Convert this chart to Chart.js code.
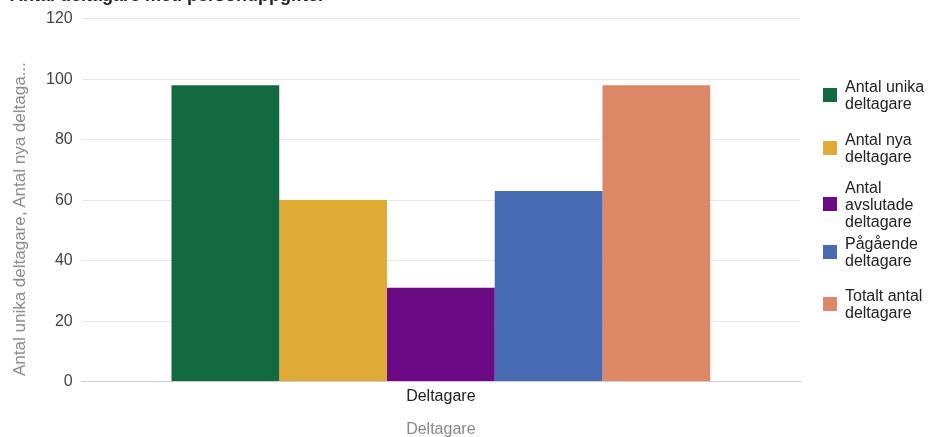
<!DOCTYPE html>
<html>
<head>
<meta charset="utf-8">
<script src="https://cdn.jsdelivr.net/npm/chart.js@4.4.1/dist/chart.umd.min.js"></script>
<style>
  html, body { margin: 0; padding: 0; background: #fff; overflow: hidden; }
  #wrap { position: relative; width: 929px; height: 437px; overflow: hidden; }
  #title { position: absolute; left: 10px; top: -15px; font: bold 18px Arial, "Liberation Sans", sans-serif; color: #222; white-space: nowrap; }
  #ytitle { position: absolute; left: 20px; top: 219px; transform: translate(-50%, -50%) rotate(-90deg); font: 17px Arial, "Liberation Sans", sans-serif; color: #888; white-space: nowrap; }
  #legend { position: absolute; left: 823px; top: 0; font: 16px Arial, "Liberation Sans", sans-serif; color: #222; }
  .item { position: absolute; left: 0; width: 110px; display: flex; align-items: center; }
  .box { width: 14px; height: 14px; flex: none; margin-right: 8px; }
  .txt { line-height: 17px; white-space: nowrap; }
</style>
</head>
<body>
<div id="wrap">
  <canvas id="chart" width="929" height="437"></canvas>
  <div id="title">Antal deltagare med personuppgifter</div>
  <div id="ytitle">Antal unika deltagare, Antal nya deltaga...</div>
  <div id="legend"></div>
</div>
<script>
const categories = ['Deltagare'];
const seriesNames = ['Antal unika deltagare', 'Antal nya deltagare', 'Antal avslutade deltagare', 'Pågående deltagare', 'Totalt antal deltagare'];
const legendLines = [['Antal unika', 'deltagare'], ['Antal nya', 'deltagare'], ['Antal', 'avslutade', 'deltagare'], ['Pågående', 'deltagare'], ['Totalt antal', 'deltagare']];
const seriesValues = [98, 60, 31, 63, 98];
const seriesColors = ['#136a40', '#e0aa36', '#6c0a85', '#476cb3', '#dc8867'];
const yTicks = [0, 20, 40, 60, 80, 100, 120];
const legendCenters = [95, 148, 204, 252, 304];

const datasets = seriesNames.map((name, i) => ({
    label: name,
    data: [seriesValues[i]],
    backgroundColor: seriesColors[i],
    borderWidth: 0,
    barPercentage: 1.0,
    categoryPercentage: 0.75
}));

const ctx = document.getElementById('chart').getContext('2d');
const myChart = new Chart(ctx, {
    type: 'bar',
    data: { labels: categories, datasets: datasets },
    options: {
        responsive: false,
        animation: false,
        layout: { padding: { top: 11.5, right: 129, left: 37, bottom: -2 } },
        plugins: {
            legend: { display: false },
            tooltip: { enabled: false }
        },
        scales: {
            x: {
                grid: { display: false, drawTicks: false },
                border: { color: '#cccccc', width: 1 },
                ticks: { color: '#222', font: { family: 'Arial', size: 16 }, padding: 5 },
                title: { display: true, text: 'Deltagare', color: '#888', font: { family: 'Arial', size: 16 }, padding: { top: 9, bottom: 0 } }
            },
            y: {
                min: 0,
                max: 120,
                afterBuildTicks: axis => { axis.ticks = yTicks.map(v => ({ value: v })); },
                grid: {
                    color: c => c.tick && c.tick.value === 0 ? '#cccccc' : '#e6e8ee',
                    drawTicks: false
                },
                border: { display: false },
                ticks: { color: '#444', font: { family: 'Arial', size: 16 }, padding: 9 }
            }
        }
    }
});

// legend on the right, lines wrapped like the original
const legend = document.getElementById('legend');
seriesNames.forEach((name, i) => {
    const item = document.createElement('div');
    item.className = 'item';
    const h = legendLines[i].length * 17;
    item.style.top = (legendCenters[i] - h / 2) + 'px';
    item.innerHTML = `<div class="box" style="background:${seriesColors[i]}"></div><div class="txt">${legendLines[i].join('<br>')}</div>`;
    legend.appendChild(item);
});
</script>
</body>
</html>
